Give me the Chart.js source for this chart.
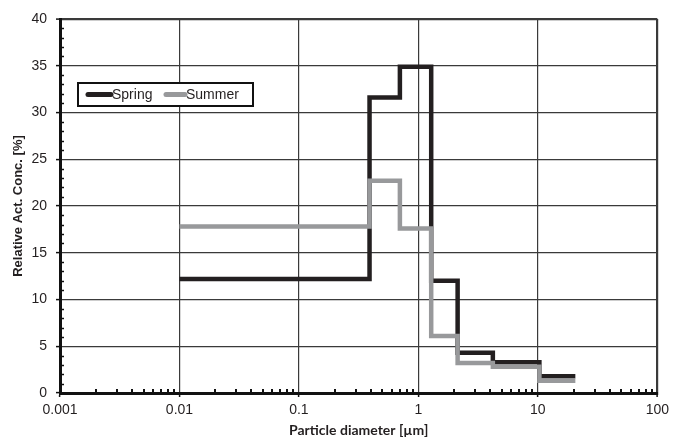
<!DOCTYPE html>
<html>
<head>
<meta charset="utf-8">
<script src="https://cdn.jsdelivr.net/npm/chart.js@4"></script>
<style>
  html, body { margin: 0; padding: 0; background: #fff; }
  #wrap { width: 674px; height: 439px; }
</style>
</head>
<body>
<div id="wrap"><canvas id="c" width="674" height="439"></canvas></div>
<script>
// ---- data ----
const binEdges = [0.01, 0.39, 0.7, 1.28, 2.13, 4.2, 10.3, 20.6];   // µm
const springValues = [12.2, 31.6, 34.9, 12.0, 4.3, 3.3, 1.8];       // %
const summerValues = [17.8, 22.7, 17.6, 6.1, 3.2, 2.8, 1.3];        // %
const seriesNames = ['Spring', 'Summer'];
const xTickValues = [0.001, 0.01, 0.1, 1, 10, 100];
const xTickLabels = ['0.001', '0.01', '0.1', '1', '10', '100'];
const xTitle = 'Particle diameter [µm]';
const yTitle = 'Relative Act. Conc. [%]';

function stepPoints(values) {
  return binEdges.map((e, i) => ({ x: e, y: values[Math.min(i, values.length - 1)] }));
}

const TXT = '#231f20';
const GRID = '#3a3a3a';
const FONT = "'Liberation Sans', Arial, sans-serif";

const minorTicks = {
  id: 'minorTicks',
  afterDraw(chart) {
    const ctx = chart.ctx, xs = chart.scales.x, ys = chart.scales.y;
    const ca = chart.chartArea;
    ctx.save();
    ctx.strokeStyle = '#111';
    ctx.lineWidth = 2;
    for (let d = 0; d < xTickValues.length - 1; d++) {
      for (let m = 2; m <= 9; m++) {
        const px = Math.round(xs.getPixelForValue(xTickValues[d] * m));
        ctx.beginPath();
        ctx.moveTo(px, ca.bottom);
        ctx.lineTo(px, ca.bottom - 4);
        ctx.stroke();
      }
    }
    ctx.lineWidth = 1.5;
    for (let v = 1; v < 40; v++) {
      if (v % 5 === 0) continue;
      const py = Math.round(ys.getPixelForValue(v)) + 0.5;
      ctx.beginPath();
      ctx.moveTo(ca.left, py);
      ctx.lineTo(ca.left + 4, py);
      ctx.stroke();
    }
    ctx.restore();
  }
};

const boxLegend = {
  id: 'boxLegend',
  afterDraw(chart) {
    const ctx = chart.ctx;
    const ca = chart.chartArea;
    const bx = ca.left + 18, by = ca.top + 64, bw = 175, bh = 23;
    ctx.save();
    ctx.fillStyle = '#fff';
    ctx.fillRect(bx, by, bw, bh);
    ctx.strokeStyle = '#111';
    ctx.lineWidth = 2;
    ctx.strokeRect(bx, by, bw, bh);
    const cy = by + bh / 2;
    const items = [
      { name: seriesNames[0], color: chart.data.datasets.find(d => d.label === seriesNames[0]).borderColor, x0: bx + 10, x1: bx + 33, tx: bx + 34 },
      { name: seriesNames[1], color: chart.data.datasets.find(d => d.label === seriesNames[1]).borderColor, x0: bx + 88, x1: bx + 107, tx: bx + 108 }
    ];
    ctx.font = '14px ' + FONT;
    ctx.textBaseline = 'middle';
    ctx.textAlign = 'left';
    items.forEach(it => {
      ctx.strokeStyle = it.color;
      ctx.lineWidth = 5;
      ctx.lineCap = 'round';
      ctx.beginPath();
      ctx.moveTo(it.x0, cy);
      ctx.lineTo(it.x1, cy);
      ctx.stroke();
      ctx.fillStyle = TXT;
      ctx.fillText(it.name, it.tx, cy + 1);
    });
    ctx.restore();
  }
};

new Chart(document.getElementById('c'), {
  type: 'line',
  data: {
    datasets: [
      {
        label: seriesNames[0],
        data: stepPoints(springValues),
        borderColor: '#231f20',
        borderWidth: 4.5,
        stepped: 'before',
        pointRadius: 0,
        fill: false,
        order: 2
      },
      {
        label: seriesNames[1],
        data: stepPoints(summerValues),
        borderColor: '#98999b',
        borderWidth: 4.5,
        stepped: 'before',
        pointRadius: 0,
        fill: false,
        order: 1
      }
    ]
  },
  plugins: [minorTicks, boxLegend],
  options: {
    responsive: false,
    animation: false,
    parsing: true,
    layout: { padding: { top: 19, right: 15, left: 0, bottom: 0 } },
    plugins: {
      legend: { display: false },
      tooltip: { enabled: false }
    },
    scales: {
      x: {
        type: 'logarithmic',
        min: 0.001,
        max: 100,
        afterBuildTicks(scale) { scale.ticks = xTickValues.map(v => ({ value: v })); },
        afterFit(scale) { scale.height = 46; },
        ticks: {
          color: TXT,
          font: { family: FONT, size: 14 },
          padding: 5,
          maxRotation: 0,
          autoSkip: false,
          callback(value) {
            const i = xTickValues.findIndex(v => Math.abs(v - value) / v < 1e-6);
            return i >= 0 ? xTickLabels[i] : '';
          }
        },
        grid: {
          color: GRID,
          lineWidth: (c) => (c.index === xTickValues.length - 1 ? 2.2 : 1.2),
          tickLength: 4,
          tickColor: '#111',
          tickWidth: 1.5
        },
        border: { display: true, color: '#111', width: 3 },
        title: {
          display: true,
          text: xTitle,
          color: TXT,
          font: { family: "Lato, 'Open Sans', sans-serif", size: 14, weight: 'bold' },
          padding: { top: 0, bottom: 0 }
        }
      },
      y: {
        min: 0,
        max: 40,
        afterFit(scale) { scale.width = 60; },
        ticks: {
          stepSize: 5,
          color: TXT,
          font: { family: FONT, size: 14 },
          padding: 9
        },
        grid: {
          color: GRID,
          lineWidth: (c) => (c.tick && c.tick.value === 40 ? 2.2 : 1.2),
          tickLength: 4,
          tickColor: '#111',
          tickWidth: 1.5
        },
        border: { display: true, color: '#111', width: 3 },
        title: {
          display: true,
          text: yTitle,
          color: TXT,
          font: { family: FONT, size: 13, weight: 'bold' },
          padding: { top: 11, bottom: 0 }
        }
      }
    }
  }
});
</script>
</body>
</html>
